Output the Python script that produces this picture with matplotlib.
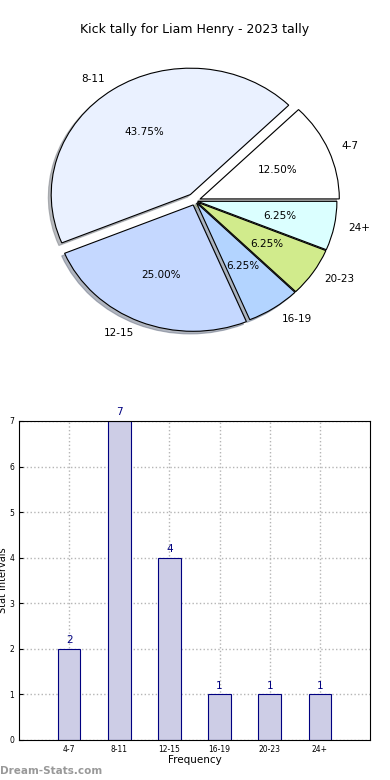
import numpy as np
import matplotlib
matplotlib.use('Agg')
import matplotlib.pyplot as plt

# data
categories = ['4-7', '8-11', '12-15', '16-19', '20-23', '24+']
counts = [2, 7, 4, 1, 1, 1]
pie_colors = ['#ffffff', '#eaf1ff', '#c5d8ff', '#b3d4ff', '#d1eb8c', '#dbffff']
explode = [0.04, 0.06, 0.035, 0.02, 0.02, 0.02]

fig = plt.figure(figsize=(3.9, 7.8), dpi=100)

# pie on top
ax1 = fig.add_axes([0.054, 0.54, 0.892, 0.405])
wedges, texts, autotexts = ax1.pie(counts, labels=categories, colors=pie_colors,
                                   explode=explode, autopct='%1.2f%%',
                                   shadow={'ox': -0.015, 'oy': -0.015, 'shade': 0.5},
                                   startangle=0, labeldistance=1.1, pctdistance=0.6,
                                   wedgeprops={'edgecolor': 'black', 'linewidth': 0.8},
                                   textprops={'fontsize': 7.5})
ax1.set_aspect('auto')
ax1.set_xlim(-1.25, 1.25)
ax1.set_ylim(-1.25, 1.25)
fig.text(0.5, 0.962, 'Kick tally for Liam Henry - 2023 tally', ha='center', va='center', fontsize=9)

# bar chart below
ax2 = fig.add_axes([0.0487, 0.0513, 0.9, 0.409])
x = np.arange(len(categories))
ax2.bar(x, counts, width=0.45, color='#cdcde6', edgecolor='navy', linewidth=0.8, zorder=2)
for xi, c in zip(x, counts):
    ax2.text(xi, c + 0.08, str(c), ha='center', va='bottom', color='navy', fontsize=7.5)
ax2.set_xlim(-1, 6)
ax2.set_ylim(0, 7)
ax2.set_xticks(x)
ax2.set_xticklabels(categories)
ax2.set_yticks(range(8))
ax2.tick_params(labelsize=5.5, length=3, direction='in')
ax2.grid(True, linestyle=':', color='#b5b5b5', linewidth=1, zorder=0)
ax2.set_axisbelow(True)
ax2.set_xlabel('Frequency', fontsize=7.5, labelpad=1)
ax2.set_ylabel('Stat Intervals', fontsize=7)
ax2.yaxis.set_label_coords(-0.03, 0.5)

fig.text(0.0, 0.012, 'Dream-Stats.com', color='#999999', fontsize=7.5, fontweight='bold', ha='left', va='center')

fig.savefig('out.png', dpi=100)
